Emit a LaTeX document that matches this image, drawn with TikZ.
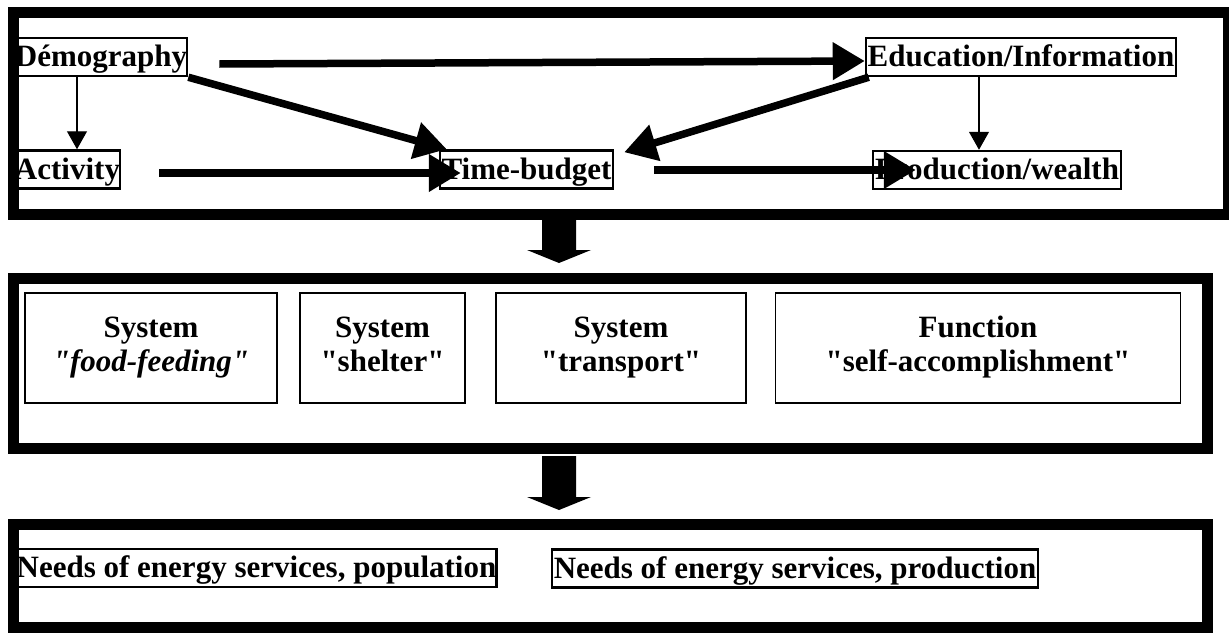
\documentclass[tikz,border=0pt]{standalone}
\usepackage{fontspec}
\setmainfont{Liberation Serif}[Ligatures=TeXOff]
\usetikzlibrary{arrows.meta}
\begin{document}
\begin{tikzpicture}[x=1pt,y=-1pt,
  frame/.style={line width=11pt},
  lbl/.style={draw, line width=2.5pt, inner sep=0pt, minimum height=38pt,
    text height=24pt, text depth=5pt, font=\bfseries\fontsize{31}{34}\selectfont},
  sysbox/.style={draw, line width=1.5pt, minimum height=110pt, align=center,
    inner sep=0pt, font=\bfseries\fontsize{31}{34}\selectfont},
  big/.style={line width=7.5pt, -{Triangle[length=32pt,width=36pt]}},
  thinarrow/.style={line width=1.2pt, -{Triangle[length=18pt,width=20pt]}},
  bigdown/.style={fill=black}
]
\useasboundingbox (0,0) rectangle (1229,632);
\clip (0,0) rectangle (1229,632);
\fill[white] (0,0) rectangle (1229,632);

% frames
\draw[frame] (13.5,12.5) rectangle (1228.5,214.5);
\draw[frame] (13.5,278) rectangle (1207,448.5);
\draw[frame] (13.5,524.5) rectangle (1207,627);

% top nodes
\node[lbl, minimum width=166pt] (demo) at (101,57) {Démography};
\node[lbl, minimum width=99pt]  (act)  at (67.5,169.5) {Activity};
\node[lbl, minimum width=173pt] (time) at (526.5,169.5) {Time-budget};
\node[lbl, minimum width=310pt] (edu)  at (1021,57) {Education/Information};
\node[lbl, minimum width=248pt] (prod) at (997,170) {Production/wealth};

% thin arrows
\draw[thinarrow] ([xshift=-24pt]demo.south) -- ([xshift=-24pt]demo.south |- act.north);
\draw[thinarrow] ([xshift=-42pt]edu.south) -- ([xshift=-42pt]edu.south |- prod.north);

% thick arrows
\draw[big] ([shift={(31,7)}]demo.east) -- ([shift={(0,4)}]edu.west);
\draw[big] (demo.south east) -- ([xshift=8pt]time.north west);
\draw[big] ([xshift=4pt]edu.south west) -- ([shift={(10,3)}]time.north east);
\draw[big] ([shift={(38,3.5)}]act.east) -- ([shift={(22,3.5)}]time.west);
\draw[big] ([shift={(40,0.5)}]time.east) -- ([shift={(44,0)}]prod.west);

% big down arrows
\fill[bigdown] (542,220) -- (576,220) -- (576,250) -- (591,250) -- (559,263) -- (527,250) -- (542,250) -- cycle;
\fill[bigdown] (542,456) -- (576,456) -- (576,497) -- (591,497) -- (559,510) -- (527,497) -- (542,497) -- cycle;

% middle boxes
\node[sysbox, minimum width=252pt] (m1) at (151,348) {System\strut\\\textit{"food-feeding"}\strut};
\node[sysbox, minimum width=165pt] (m2) at (382.5,348) {System\strut\\"shelter"\strut};
\node[sysbox, minimum width=250pt] (m3) at (621,348) {System\strut\\"transport"\strut};
\node[sysbox, minimum width=405pt] (m4) at (978,348) {Function\strut\\"self-accomplishment"\strut};

% bottom nodes
\node[lbl, minimum width=475pt] (need1) at (256.5,568) {Needs of energy services, population};
\node[lbl, minimum width=486pt] (need2) at (795,568.5) {Needs of energy services, production};
\end{tikzpicture}
\end{document}
